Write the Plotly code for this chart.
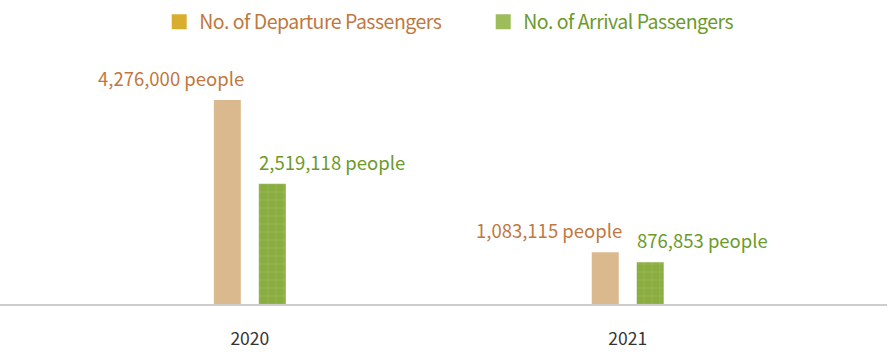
import plotly.graph_objects as go

years = [2020, 2021]
departures = [4276000, 1083115]
arrivals = [2519118, 876853]
series_names = ["No. of Departure Passengers", "No. of Arrival Passengers"]

FONT = "Noto Sans CJK KR"
DEP_BAR = "#DBB98F"
DEP_LEGEND = "#D9AE2E"
DEP_TEXT = "#C0783E"
ARR_BAR = "#8AAD40"
ARR_LEGEND = "#9CBD59"
ARR_TEXT = "#6C9A2A"
PATTERN_FG = "#BBD390"

fig = go.Figure()

# bars
fig.add_trace(go.Bar(x=years, y=departures, name=series_names[0],
                     marker=dict(color=DEP_BAR, line=dict(width=0)), showlegend=False,
                     hoverinfo="skip"))
fig.add_trace(go.Bar(x=years, y=arrivals, name=series_names[1],
                     marker=dict(color=ARR_BAR, line=dict(width=0),
                                 pattern=dict(shape="+", fgcolor=PATTERN_FG, bgcolor=ARR_BAR,
                                              size=8, solidity=0.12)),
                     showlegend=False, hoverinfo="skip"))
# legend entries
legend_colors = [(DEP_LEGEND, DEP_TEXT), (ARR_LEGEND, ARR_TEXT)]
for name, (mc, tc) in zip(series_names, legend_colors):
    fig.add_trace(go.Scatter(x=[None], y=[None], mode="markers",
                             name=f"<span style='color:{tc};letter-spacing:-0.5px'>{name}</span>",
                             marker=dict(symbol="square", size=15, color=mc, line=dict(width=0)),
                             hoverinfo="skip"))

for yr, v in zip(years, departures):
    fig.add_annotation(x=yr, y=v, text=f"{v:,} people", showarrow=False,
                       xanchor="right", yanchor="bottom", xshift=-4, yshift=7,
                       font=dict(family=FONT, size=18.5, color=DEP_TEXT))
for yr, v in zip(years, arrivals):
    fig.add_annotation(x=yr, y=v, text=f"{v:,} people", showarrow=False,
                       xanchor="left", yanchor="bottom", xshift=7, yshift=7,
                       font=dict(family=FONT, size=18.5, color=ARR_TEXT))

fig.update_layout(
    width=890, height=359,
    margin=dict(l=0, r=3, t=60, b=55),
    paper_bgcolor="white", plot_bgcolor="white",
    barmode="group", bargap=0.762, bargroupgap=0.4,
    font=dict(family=FONT, color="#333333"),
    showlegend=True,
    legend=dict(orientation="h", x=0.1795, xanchor="left", xref="paper",
                y=0.993, yanchor="top", yref="container",
                entrywidth=279, entrywidthmode="pixels",
                font=dict(family=FONT, size=19.5), traceorder="normal"),
    xaxis=dict(range=[2019.339, 2021.686], tickvals=years, ticktext=[str(y) for y in years],
               showgrid=False, zeroline=False, showline=True, linecolor="#CCCCCC", linewidth=1.5,
               ticks="outside", ticklen=18, tickcolor="rgba(0,0,0,0)",
               tickfont=dict(family=FONT, size=17.5, color="#333333")),
    yaxis=dict(range=[0, 5112360], visible=False, showgrid=False, zeroline=False),
)

fig.write_html("out.html", config={"displayModeBar": False},
               post_script="document.body.style.margin='0';document.body.style.overflow='hidden';")
